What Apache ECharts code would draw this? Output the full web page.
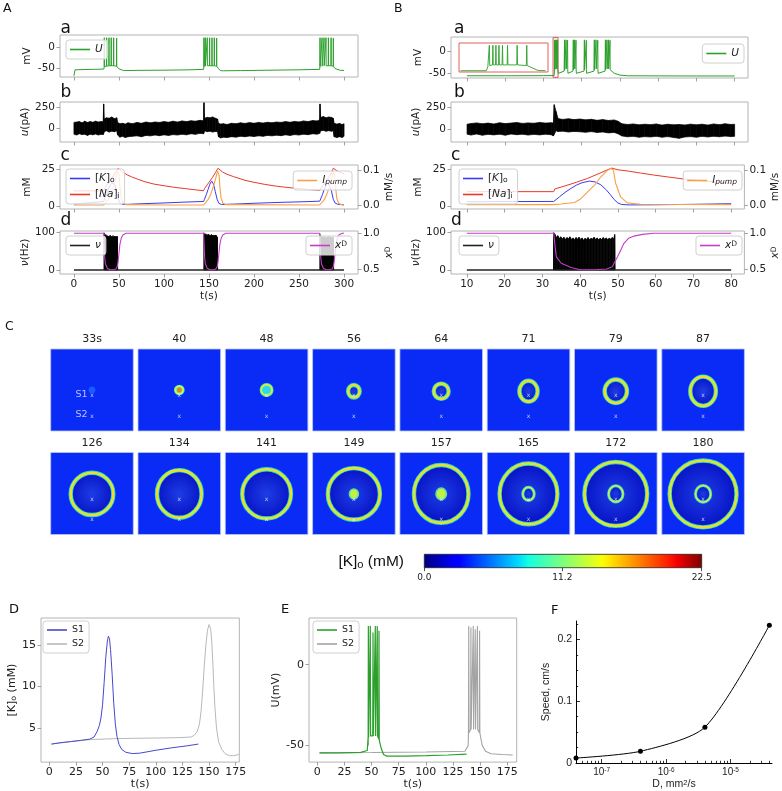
<!DOCTYPE html>
<html><head><meta charset="utf-8">
<script src="https://cdn.jsdelivr.net/npm/echarts@6/dist/echarts.min.js"></script>
<style>html,body{margin:0;padding:0;background:#fff}#c{width:782px;height:791px}</style>
</head><body><div id="c"></div>
<script>
// ===================== DATA =====================
// --- panels A/B tick values ---
const A_XTICKS = [0,50,100,150,200,250,300];
const B_XTICKS = [10,20,30,40,50,60,70,80];
const U_YTICKS = [-50,0];
const I_YTICKS = [0,250];
const C_LTICKS = [0,25];
const C_RTICKS = [0,0.1];
const NU_LTICKS = [0,100];
const XD_RTICKS = [0.5,1.0];

// --- A(a): membrane potential U (t s, mV); spikes: [t, peak, trough] ---
const A_U_base = [[0,-70],[0.8,-70],[1.2,-55],[10,-54.5],[20,-54],[30,-53.5],[33.3,-53],[48,-47],[49.5,-52],[51.5,-56],[55,-57],[70,-56.5],[100,-56],[130,-55],[144,-54],[159,-47],[160.5,-52],[162.5,-57],[166,-57.5],[185,-57],[220,-56],[250,-55],[272.9,-54],[288.6,-47],[290,-52],[292,-56],[296,-56.5],[300,-56.5]];
const A_U_spikes = [[33.7,25,-47],[36.3,25,-46],[38.9,25,-45],[41.4,25,-45],[44.1,25,-45],[47.4,24,-46],
  [144.4,25,-47],[145.9,25,-46],[148.1,25,-45],[150.7,25,-45],[153.3,25,-45],[155.9,25,-45],[158.5,24,-46],
  [273.3,25,-47],[275.6,25,-46],[277.8,25,-45],[280.0,25,-45],[282.6,25,-45],[285.6,25,-45],[288.1,24,-46]];
// --- A(b): input current u envelope [t, low, high] (pA) ---
const A_u_band = [[0,-70,70],[3,-80,75],[6,-65,80],[9,-75,65],[12,-70,85],[15,-85,70],[18,-70,80],[21,-78,72],[24,-68,85],[27,-80,75],[30,-72,80],[32.5,-75,78],[33,-60,290],[33.6,-40,110],[36,-30,125],[39,-45,120],[42,-35,135],[45,-40,115],[47.5,-30,125],[48.5,-80,70],[51,-105,55],[54,-95,60],[57,-110,50],[60,-100,65],[65,-95,55],[70,-90,70],[75,-100,60],[80,-85,75],[85,-90,65],[90,-80,75],[95,-88,70],[100,-78,80],[105,-85,72],[110,-75,85],[115,-80,75],[120,-70,88],[125,-78,80],[130,-65,90],[135,-72,85],[140,-60,95],[144,-65,90],[144.4,-50,305],[145,-30,120],[148,-40,130],[151,-35,125],[154,-45,135],[157,-38,120],[159.5,-40,110],[160.5,-100,60],[163,-115,50],[166,-105,55],[170,-110,45],[175,-100,60],[180,-105,55],[185,-95,65],[190,-100,58],[195,-92,68],[200,-98,60],[205,-90,70],[210,-95,62],[215,-85,72],[220,-90,66],[225,-82,75],[230,-88,70],[235,-78,80],[240,-85,72],[245,-75,82],[250,-80,76],[255,-70,88],[260,-76,80],[265,-65,92],[270,-70,88],[273,-60,100],[273.3,-40,290],[274,-30,130],[277,-25,140],[280,-35,125],[283,-28,135],[286,-35,130],[288,-30,120],[289,-100,60],[292,-110,50],[295,-100,58],[298,-108,45],[300,-95,55]];
// --- A(c): [K]o, [Na]i (mM), I_pump (mM/s) ---
const A_K = [[0,1.8],[10,2.3],[20,2.8],[30,3.3],[33,3.5],[34,5],[36,8],[38,11.5],[40,14],[42,15.8],[43.5,16.3],[45,15],[47,11],[49,5.5],[51,2.5],[54,1.6],[60,1.6],[80,2.1],[100,2.5],[120,3],[144,3.5],[145,5],[147,8],[149,11.5],[151,15],[153,17],[155,15],[157,10],[159,5],[161,2.2],[164,1.5],[180,1.8],[200,2.3],[230,2.9],[260,3.4],[273,3.7],[274,5],[276,8],[278,11.5],[280,14.5],[282,16],[284,15],[286,10.5],[288,5],[290,2.5],[293,1.6],[300,1.3]];
const A_Na = [[0,10.5],[33,10.5],[34,12],[37,14.5],[40,17],[43,19.5],[46,22.5],[49,25.5],[51,24.8],[54,23],[59,21.2],[64,19.8],[72,18],[79,16.5],[89,15],[99,14],[112,12.8],[124,12],[135,11.2],[144,10.6],[145,12],[148,14.5],[151,17],[154,19.5],[157,22.5],[160,25.5],[162,24.8],[165,23],[170,21.5],[177,20],[190,17.5],[200,16.2],[212,14.8],[225,13.6],[240,12.6],[255,11.7],[273,10.8],[274,12],[277,14.5],[280,17],[283,19.5],[286,22.5],[288,25.5],[290,24.8],[293,23.5],[297,22.5],[300,21.8]];
const A_Ip = [[0,0.002],[33,0.002],[35,0.006],[38,0.017],[41,0.033],[44,0.055],[46.5,0.077],[48.5,0.097],[49.3,0.102],[50.2,0.085],[51.2,0.05],[52.5,0.02],[54.5,0.007],[58,0.003],[100,0.002],[144,0.002],[146,0.006],[149,0.017],[152,0.033],[155,0.055],[157.5,0.077],[159.5,0.097],[160.3,0.102],[161.2,0.085],[162.2,0.05],[163.5,0.02],[165.5,0.007],[169,0.003],[273,0.002],[275,0.006],[278,0.017],[281,0.033],[284,0.055],[286.5,0.077],[288,0.097],[288.8,0.102],[289.7,0.085],[290.7,0.05],[292,0.02],[294,0.007],[297,0.003],[300,0.002]];
// --- A(d): firing rate nu (Hz) bursts [t, low, high], and x^D ---
const A_nu_rest = [[0,0],[300,0]];
const A_nu_bursts = [
  [[33.4,0,100],[33.8,0,93],[34.6,0,89],[35.4,0,95],[36.2,0,88],[37,0,92],[37.8,0,86],[38.6,0,91],[39.4,0,87],[40.2,0,93],[41,0,88],[41.8,0,90],[42.6,0,86],[43.4,0,92],[44.2,0,87],[45,0,90],[45.8,0,85],[46.6,0,91],[47.4,0,88],[48.2,0,90],[48.6,0,0]],
  [[144.3,0,100],[144.8,0,96],[145.6,0,92],[146.4,0,97],[147.2,0,91],[148,0,95],[148.8,0,90],[149.6,0,96],[150.4,0,91],[151.2,0,94],[152,0,89],[152.8,0,95],[153.6,0,90],[154.4,0,94],[155.2,0,89],[156,0,93],[156.8,0,90],[157.6,0,94],[158.4,0,91],[159.2,0,88],[159.6,0,0]],
  [[273.2,0,96],[273.6,0,90],[274.4,0,86],[275.2,0,91],[276,0,85],[276.8,0,89],[277.6,0,84],[278.4,0,90],[279.2,0,86],[280,0,88],[280.8,0,84],[281.6,0,89],[282.4,0,85],[283.2,0,90],[284,0,86],[284.8,0,88],[285.6,0,84],[286.4,0,89],[287.2,0,85],[288,0,88],[288.5,0,0]]
];
const A_xD = [[0,1],[33,1],[33.5,0.85],[34.2,0.65],[35,0.57],[37,0.51],[40,0.49],[44,0.49],[46.5,0.5],[48,0.53],[49,0.6],[50,0.72],[51,0.84],[52.5,0.93],[54.5,0.98],[58,1],[144,1],[144.5,0.85],[145.2,0.65],[146,0.57],[148,0.51],[151,0.49],[155,0.49],[157.5,0.5],[159,0.53],[160,0.6],[161,0.72],[162,0.84],[163.5,0.93],[165.5,0.98],[169,1],[273,1],[273.5,0.85],[274.2,0.65],[275,0.57],[277,0.51],[280,0.49],[284,0.49],[286.5,0.5],[288,0.53],[289,0.6],[290,0.72],[291,0.84],[292.5,0.93],[294.5,0.98],[298,1],[300,1]];

// --- B(a) ---
const B_U_base = [[10,-55.5],[20,-55.5],[30,-55.3],[32.8,-55],[33.9,-50],[35.4,-45],[36.4,-50],[37.7,-45],[38.6,-50],[40.6,-45],[41.3,-50],[43.2,-45],[44.3,-50],[46.1,-45],[47.5,-46],[48.5,-50],[50,-54],[52,-55.5],[60,-55.8],[70,-56],[80,-56]];
const B_U_spikes = [[32.9,25,-42],[33.2,25,-40],[33.45,25,-40],[33.7,24,-42],[35.5,25,-42],[35.9,25,-40],[36.3,24,-42],[37.8,25,-42],[38.15,25,-40],[38.5,24,-42],[40.7,25,-42],[41.2,24,-42],[43.3,25,-42],[43.75,25,-40],[44.2,24,-42],[46.2,25,-42],[46.6,25,-40],[47.0,25,-40],[47.4,24,-42]];
const B_ZOOM = [32.5, 33.8];
const B_IN_base = [[32.45,-56],[32.96,-56],[32.99,-44],[33.8,-40],[33.88,-48],[33.98,-55],[34.13,-56]];
const B_IN_spikes = [[33.02,23,-40],[33.09,23,-38],[33.15,23,-38],[33.21,23,-38],[33.28,23,-38],[33.38,23,-38],[33.57,23,-38],[33.76,23,-40]];
// --- B(b) ---
const B_u_band = [[10,-60,55],[11,-70,62],[12.5,-58,70],[14,-72,60],[15.5,-62,68],[17,-68,58],[18.5,-60,72],[20,-72,62],[21.5,-58,68],[23,-66,75],[24.5,-60,64],[26,-70,70],[27.5,-62,66],[29,-68,76],[30.5,-60,68],[32,-66,72],[32.6,-80,70],[32.8,-60,280],[33.3,-20,200],[33.8,-30,120],[35,-25,110],[36.5,-35,118],[38,-28,108],[39.5,-32,115],[41,-38,105],[42.5,-30,112],[44,-40,100],[45.5,-35,108],[47,-45,98],[48.5,-40,104],[49.5,-55,90],[50.5,-80,60],[52,-90,52],[53.5,-85,58],[55,-95,48],[56.5,-88,55],[58,-92,50],[59.5,-85,58],[61,-95,45],[62.5,-88,55],[64,-98,48],[65.5,-108,52],[67,-92,46],[68.5,-88,56],[70,-95,48],[71.5,-85,55],[73,-92,45],[74.5,-84,58],[76,-90,50],[77.5,-82,60],[79,-88,52],[80,-85,55]];
// --- B(c) ---
const B_K = [[10,3.3],[20,3.4],[33,3.5],[33.3,4.5],[34.5,6.5],[36,9.5],[37.6,12.2],[39,14.3],[40.5,15.9],[42.5,17],[44,16.4],[45.5,14.5],[47,11],[48,8],[49,4.8],[50,2.5],[51,1.5],[53,1.2],[60,1.3],[70,1.6],[80,2]];
const B_Na = [[10,10],[33,10],[33.3,11.8],[36,13.8],[39,16.2],[42,18.8],[45,22],[48.3,25.6],[50,24.5],[53,23.5],[56,22.3],[59.5,21],[63,19.8],[68,18.2],[72,17.2],[76.9,16.2],[80,15.6]];
const B_Ip = [[10,0.003],[33,0.003],[35,0.005],[38.5,0.009],[40,0.018],[42,0.039],[44,0.06],[45.5,0.081],[47,0.097],[48.1,0.104],[48.8,0.1],[49.4,0.063],[50.7,0.025],[52.5,0.008],[56,0.004],[80,0.003]];
// --- B(d) ---
const B_nu_rest = [[10,0],[80,0]];
const B_nu_bursts = [[[32.95,0,0],[33,0,100],[33.3,0,96],[33.7,0,88],[34.1,0,92],[34.5,0,85],[34.9,0,89],[35.3,0,83],[35.7,0,88],[36.1,0,82],[36.5,0,87],[36.9,0,84],[37.3,0,89],[37.7,0,82],[38.1,0,86],[38.5,0,81],[38.9,0,87],[39.3,0,83],[39.7,0,88],[40.1,0,82],[40.5,0,86],[40.9,0,80],[41.3,0,85],[41.7,0,82],[42.1,0,87],[42.5,0,81],[42.9,0,85],[43.3,0,83],[43.7,0,88],[44.1,0,82],[44.5,0,86],[44.9,0,81],[45.3,0,85],[45.7,0,82],[46.1,0,87],[46.5,0,83],[46.9,0,86],[47.3,0,82],[47.7,0,85],[48.1,0,83],[48.5,0,87],[48.9,0,84],[49.15,0,95],[49.25,0,0]]];
const B_xD = [[10,1],[33,1],[33.4,0.8],[33.7,0.67],[35,0.58],[37.6,0.52],[40,0.49],[44,0.49],[47,0.5],[48.5,0.53],[49,0.58],[49.9,0.67],[50.8,0.77],[51.6,0.86],[52.8,0.93],[54.2,0.96],[56.5,0.985],[59.5,1],[80,1]];

// --- C: snapshots of [K]o ---
const C_TITLES = ['33s','40','48','56','64','71','79','87','126','134','141','149','157','165','172','180'];
// [frame, cx, cy, rx, ry, kind]  (frame coords 0..100)
const C_FEATURES = [
  [0,50,50,4.2,4.2,0],[1,50,50,4.6,4.6,1],[2,50,50,6.5,6.5,2],
  [3,50,48.5,7,7.6,3],[4,50,48.5,9,9.3,3],[5,50,48.5,11,12.7,3],[6,50,48.5,13.5,14.3,3],[7,50,48.5,15.5,17.8,3],
  [8,50,49.5,25.8,25.8,3],[9,50,49.5,27,29,3],[10,50,49.5,29.5,30,3],
  [11,50,49.5,31.5,31.5,3],[11,50,49.5,5.4,6,4],
  [12,50,49.5,33,35.3,3],[12,50,49.5,6.3,7,4],
  [13,50,49.5,35,37,3],[13,50,49.5,6.9,8,5],
  [14,50,49.5,38,39,3],[14,50,49.5,8.7,9.8,5],
  [15,50,49.5,40.5,40.8,3],[15,50,49.5,9.2,10.2,5]
];
const C_MARKERS = [[50,43],[50,18]];
const C_MARKER_NAMES = ['S1','S2'];
const CB_RANGE = [0, 22.5];
const CB_TICKS = [0, 11.2, 22.5];

// --- D ---
const D_XTICKS = [0,25,50,75,100,125,150,175];
const D_YTICKS = [5,10,15];
const D_S1 = [[2,3.05],[10,3.2],[20,3.35],[30,3.5],[38,3.65],[42,3.9],[45,4.6],[47,5.3],[48.5,6.2],[50,7.8],[51.5,10.5],[53,13.5],[54.5,15.5],[55.5,16.1],[56.5,15.8],[57.5,14.5],[59,11.5],[60.5,8],[62,5.5],[63.5,4],[65.5,3],[68,2.4],[72,2.05],[78,1.9],[85,1.95],[100,2.3],[115,2.6],[130,2.85],[140,3.05]];
const D_S2 = [[2,3.05],[10,3.2],[20,3.35],[30,3.5],[40,3.6],[60,3.7],[80,3.75],[100,3.78],[120,3.82],[133,3.9],[136,4.1],[139,4.6],[141,5.5],[142.5,7],[144,9.5],[145.5,12.5],[147,15],[148.5,16.8],[150,17.5],[151.5,17],[152.5,15.5],[153.5,13],[154.5,10],[155.5,7.5],[157,5],[159,3.3],[162,2.4],[165,1.9],[169,1.65],[173,1.65],[178,1.8]];
// --- E ---
const E_XTICKS = [0,25,50,75,100,125,150,175];
const E_YTICKS = [-50,0];
const E_S1_base = [[2,-54.5],[20,-54.5],[40,-54.2],[46,-53],[46.8,-50],[57.5,-48],[59,-52],[61,-55.5],[64,-56.5],[80,-56.5],[100,-56.2],[120,-55.8],[137.5,-55.3]];
const E_S1_spikes = [[47,24,-45],[48.8,24,-44],[51.3,20,-44],[53.4,24,-44],[55.2,24,-44],[56.8,21,-46]];
const E_S2_base = [[2,-54.5],[50,-54.3],[100,-54],[136,-53.5],[139,-50],[150.5,-45],[152,-50],[155,-53.5],[160,-55],[170,-55.5],[180,-55.8]];
const E_S2_spikes = [[139.5,24,-42],[141.5,23,-40],[143.7,24,-40],[145.5,22,-40],[147.5,24,-40],[149.5,21,-42]];
// --- F ---
const F_D = [4e-8, 4e-7, 4e-6, 4e-5];
const F_SPEED = [0.008, 0.019, 0.058, 0.223];
const F_XRANGE = [4e-8, 4.4e-5];
const F_XTICKS = [1e-7, 1e-6, 1e-5];
const F_XMINOR = [5e-8,6e-8,7e-8,8e-8,9e-8,2e-7,3e-7,4e-7,5e-7,6e-7,7e-7,8e-7,9e-7,2e-6,3e-6,4e-6,5e-6,6e-6,7e-6,8e-6,9e-6,2e-5,3e-5,4e-5];
const F_YTICKS = [0, 0.1, 0.2];
const F_YMINOR = [0.025,0.05,0.075,0.125,0.15,0.175,0.225];

// ===================== BUILD =====================
const FONT = 'DejaVu Sans';
const SANS = 'Liberation Sans';
function rich(sz, font) { font = font || FONT; return {
  it:{fontStyle:'italic', fontSize:sz, fontFamily:font},
  sub:{fontSize:sz*0.72, verticalAlign:'bottom', lineHeight:sz*0.7, fontFamily:font},
  subit:{fontSize:sz*0.72, fontStyle:'italic', verticalAlign:'bottom', lineHeight:sz*0.7, fontFamily:font},
  sup:{fontSize:sz*0.72, verticalAlign:'top', lineHeight:sz*0.7, fontFamily:font}
};}
const grid=[], xAxis=[], yAxis=[], series=[], legend=[], graphic=[];
function G(left, top, width, height, extra) {
  grid.push(Object.assign({left, top, width, height, show:true, borderColor:'#b4b4b4', borderWidth:1, backgroundColor:'transparent', containLabel:false}, extra||{}));
  return grid.length-1;
}
function axisObj(gi, min, max, ticks, o) {
  o = o || {};
  const fs = o.fontSize || 10.5, font = o.font || FONT;
  const a = {gridIndex:gi, type:'value', min, max, position:o.position,
    axisLine:{show:!!o.line, onZero:false, lineStyle:{color:'#000', width:1}},
    splitLine:{show:false},
    axisTick:{show:!!ticks, length:o.tickLen||3.5, inside:!!o.inside, lineStyle:{color:o.tickColor||'#8a8a8a', width:0.8}},
    axisLabel:{show:!!o.labels, margin:o.margin||5, fontSize:fs, color:'#222', fontFamily:font, rich:rich(fs*0.9,font)},
    name:o.name||'', nameLocation:'middle', nameGap:o.nameGap||16,
    nameTextStyle:{fontSize:o.nameSize||10.5, color:'#222', fontFamily:font, rich:rich(o.nameSize||10.5,font)}
  };
  if (ticks) { a.axisTick.customValues = ticks; a.axisLabel.customValues = ticks; }
  if (o.formatter) a.axisLabel.formatter = o.formatter;
  if (o.hidden) a.show = false;
  return a;
}
function X(gi,min,max,ticks,o){ o=o||{}; o.position=o.position||'bottom'; xAxis.push(axisObj(gi,min,max,ticks,o)); return xAxis.length-1; }
function Y(gi,min,max,ticks,o){ o=o||{}; o.position=o.position||'left'; if(!o.nameGap) o.nameGap=27; yAxis.push(axisObj(gi,min,max,ticks,o)); return yAxis.length-1; }
function L(name, xi, yi, data, color, w, extra) {
  series.push(Object.assign({name, type:'line', xAxisIndex:xi, yAxisIndex:yi, data, showSymbol:false, symbol:'none',
    lineStyle:{color, width:w||1}, itemStyle:{color}, silent:true, clip:true, z:3}, extra||{}));
}
function withSpikes(base, spikes, w) {
  const pts = base.map(p => [p[0], p[1]]);
  spikes.forEach(s => { pts.push([s[0]-w, s[2]], [s[0], s[1]], [s[0]+w, s[2]]); });
  pts.sort((a,b) => a[0]-b[0]);
  return pts;
}
function band(xi, yi, rows, color, z) {
  const segs = [];
  for (let i=0;i<rows.length-1;i++){ const a=rows[i], b=rows[i+1]; segs.push([a[0],a[1],a[2],b[0],b[1],b[2]]); }
  series.push({type:'custom', xAxisIndex:xi, yAxisIndex:yi, data:segs, silent:true, z:z||2, clip:true,
    encode:{x:[0,3], y:[1,2,4,5]},
    renderItem:(p, api) => {
      const a0=api.coord([api.value(0),api.value(1)]), a1=api.coord([api.value(0),api.value(2)]);
      const b0=api.coord([api.value(3),api.value(4)]), b1=api.coord([api.value(3),api.value(5)]);
      return {type:'polygon', shape:{points:[a0,a1,b1,b0]}, style:{fill:color, stroke:color, lineWidth:0.7}};
    }});
}
const LABELS = {AU:'{it|U}', BU:'{it|U}', AK:'[{it|K}]{sub|o}', BK:'[{it|K}]{sub|o}', ANa:'[{it|Na}]{sub|i}', BNa:'[{it|Na}]{sub|i}',
  AIp:'{it|I}{subit|pump}', BIp:'{it|I}{subit|pump}', Anu:'{it|ν}', Bnu:'{it|ν}', AxD:'{it|x}{sup|D}', BxD:'{it|x}{sup|D}',
  DS1:'S1', DS2:'S2', ES1:'S1', ES2:'S2'};
function LEG(names, pos, extra) {
  legend.push(Object.assign({data:names, orient:'vertical', selectedMode:false, icon:'rect', itemWidth:20, itemHeight:1.6, itemGap:5,
    padding:[4,5,4,4], backgroundColor:'rgba(255,255,255,0.8)', borderColor:'#d0d0d0', borderWidth:1, borderRadius:3,
    textStyle:{fontFamily:FONT, fontSize:10.5, color:'#222', rich:rich(10.5)}, formatter:n => LABELS[n] || n, z:10}, pos, extra||{}));
}
function T(text, x, y, size, o) {
  o = o || {};
  graphic.push({type:'text', x, y, z:20, silent:true, style:{text, fontSize:size, fontFamily:o.font||FONT, fill:o.fill||'#111',
    align:o.align||'left', verticalAlign:o.va||'middle', rich:rich(size, o.font)}});
}

const GREEN='#2ca02c', BLUE='#3a3af0', RED='#e8392c', ORANGE='#f7a048', MAG='#c23fc8';

// ---------- Panel A & B builder ----------
function buildColumn(P, cfg) {
  const L0 = cfg.left, W = cfg.width;
  const ga = G(L0, cfg.aTop, W, cfg.aH), gb = G(L0, 102, W, 40), gc = G(L0, 165, W, 44), gd = G(L0, 231, W, 43);
  const xa = X(ga, cfg.xmin, cfg.xmax, cfg.xticks), xb = X(gb, cfg.xmin, cfg.xmax, cfg.xticks), xc = X(gc, cfg.xmin, cfg.xmax, cfg.xticks);
  const xd = X(gd, cfg.xmin, cfg.xmax, cfg.xticks, {labels:true, name:'t(s)', nameGap:17, margin:5});
  const ya = Y(ga, cfg.aMin, cfg.aMax, U_YTICKS, {labels:true, name:'mV'});
  const yb = Y(gb, cfg.bMin, cfg.bMax, I_YTICKS, {labels:true, name:'{it|u}(pA)'});
  const yc = Y(gc, -1.5, 27.65, C_LTICKS, {labels:true, name:'mM'});
  const yc2 = Y(gc, -0.0092, 0.114, C_RTICKS, {labels:true, position:'right', name:'mM/s', nameGap:24, formatter:v => v.toFixed(1)});
  const yd = Y(gd, -10.7, 104.6, NU_LTICKS, {labels:true, name:'{it|ν}(Hz)'});
  const yd2 = Y(gd, 0.43, 1.032, XD_RTICKS, {labels:true, position:'right', name:'{it|x}{sup|D}', nameGap:24, formatter:v => v.toFixed(1)});
  // a
  L(P+'U', xa, ya, withSpikes(cfg.U_base, cfg.U_spikes, cfg.spikeW), GREEN, 1);
  // b
  band(xb, yb, cfg.u_band, '#000');
  // c
  L(P+'K', xc, yc, cfg.K, BLUE, 1);
  L(P+'Na', xc, yc, cfg.Na, RED, 1);
  L(P+'Ip', xc, yc2, cfg.Ip, ORANGE, 1.1);
  // d
  cfg.nu_bursts.forEach(b => band(xd, yd, b, '#000'));
  L(P+'nu', xd, yd, cfg.nu_rest, '#222', 1.4);
  L(P+'xD', xd, yd2, cfg.xD, MAG, 1.1, {z:5});
  return {ga, xa, ya};
}
const colA = buildColumn('A', {left:60, width:298, xmin:-15.5, xmax:315.5, xticks:A_XTICKS, aTop:35, aH:42, aMin:-73, aMax:31.75,
  bMin:-163, bMax:313, U_base:A_U_base, U_spikes:A_U_spikes, spikeW:0.12, u_band:A_u_band, K:A_K, Na:A_Na, Ip:A_Ip,
  nu_bursts:A_nu_bursts, nu_rest:A_nu_rest, xD:A_xD});
const colB = buildColumn('B', {left:451, width:297, xmin:5.8, xmax:83.5, xticks:B_XTICKS, aTop:37, aH:41, aMin:-60.5, aMax:31.4,
  bMin:-150, bMax:311, U_base:B_U_base, U_spikes:B_U_spikes, spikeW:0.04, u_band:B_u_band, K:B_K, Na:B_Na, Ip:B_Ip,
  nu_bursts:B_nu_bursts, nu_rest:B_nu_rest, xD:B_xD});
// zoom marker in B(a)
series.push({type:'line', xAxisIndex:colB.xa, yAxisIndex:colB.ya, data:[], silent:true,
  markArea:{silent:true, itemStyle:{color:'rgba(0,0,0,0)', borderColor:'#e05555', borderWidth:1},
    data:[[{coord:[B_ZOOM[0], -59]}, {coord:[B_ZOOM[1], 30]}]]}});
// inset
const gIn = G(459, 43, 89, 29, {borderColor:'#e06060', backgroundColor:'#fff', z:4});
const xIn = X(gIn, 32.42, 34.18, null, {hidden:true}), yIn = Y(gIn, -60, 30, null, {hidden:true});
L('inset', xIn, yIn, withSpikes(B_IN_base, B_IN_spikes, 0.008), GREEN, 0.9, {z:6});

LEG(['AU'], {left:66, top:40});
LEG(['AK','ANa'], {left:66, top:169});
LEG(['AIp'], {right:430, top:171});
LEG(['Anu'], {left:66, top:236});
LEG(['AxD'], {right:430, top:236});
LEG(['BU'], {right:38, top:44});
LEG(['BK','BNa'], {left:459, top:169});
LEG(['BIp'], {right:40, top:171});
LEG(['Bnu'], {left:459, top:236});
LEG(['BxD'], {right:40, top:236});

// ---------- Panel C ----------
const INTERIOR = {type:'radial', x:0.5, y:0.5, r:0.5, colorStops:[{offset:0,color:'#1d3de6'},{offset:0.75,color:'#0c1ccc'},{offset:1,color:'#0810bd'}]};
const C_STYLE = {
  0:{fill:'#1a5cff'},
  1:{fill:'#ff7c00', edge:'#3ee0d0', w1:3.2, mid:'#e6f230', w2:1.6},
  2:{fill:'#2ad8f6', edge:'#4ae6a8', w1:3.2, mid:'#dcf03a', w2:1.6},
  3:{fill:INTERIOR, edge:'#38d4c8', w1:4.4, mid:'#cdf040', w2:2.6, core:'#ffd222', w3:1.0},
  4:{fill:'#c4f040', edge:'#5ee0a6', w1:1.6},
  5:{fill:INTERIOR, edge:'#3cd6ce', w1:3.0, mid:'#c8f048', w2:1.5}
};
function ringItem(p, api) {
  const c = api.coord([api.value(0), api.value(1)]);
  const s = api.size([api.value(2), api.value(3)]);
  const sh = {cx:c[0], cy:c[1], rx:s[0], ry:s[1]};
  const st = C_STYLE[api.value(4)];
  const ch = [{type:'ellipse', shape:sh, style:{fill:st.fill, stroke:st.edge||null, lineWidth:st.w1||0}}];
  if (st.mid) ch.push({type:'ellipse', shape:sh, style:{fill:null, stroke:st.mid, lineWidth:st.w2}});
  if (st.core) ch.push({type:'ellipse', shape:sh, style:{fill:null, stroke:st.core, lineWidth:st.w3}});
  return {type:'group', children:ch};
}
C_TITLES.forEach((title, i) => {
  const col = i % 8, row = Math.floor(i / 8);
  const g = G(50.7 + col*87.3, row === 0 ? 349 : 452.5, 82.6, 82, {backgroundColor:'#0a2af6', borderColor:'#b8c6f4', borderWidth:0.8});
  const xi = X(g, 0, 100, null, {position:'top', name:title, nameGap:4, nameSize:11});
  const yi = Y(g, 0, 100, null, {hidden:true});
  series.push({type:'custom', xAxisIndex:xi, yAxisIndex:yi, silent:true, clip:true, z:2,
    data:C_FEATURES.filter(f => f[0] === i).map(f => f.slice(1)), encode:{x:[0], y:[1]}, renderItem:ringItem});
  series.push({type:'scatter', xAxisIndex:xi, yAxisIndex:yi, silent:true, z:4, data:C_MARKERS, symbolSize:1,
    itemStyle:{color:'rgba(0,0,0,0)'}, label:{show:true, formatter:'x', position:'inside', color:'#eef2ff', fontSize:6, fontFamily:FONT}});
  if (i === 0) {
    series.push({type:'scatter', xAxisIndex:xi, yAxisIndex:yi, silent:true, z:4, data:C_MARKERS, symbolSize:1,
      itemStyle:{color:'rgba(0,0,0,0)'}, label:{show:true, formatter:p => C_MARKER_NAMES[p.dataIndex], position:'left', distance:4, offset:[0,-1.5], color:'#dfe6ff', fontSize:9.5, fontFamily:FONT}});
  }
});
// colorbar
const JET = [[0,'#000080'],[0.11,'#0000ff'],[0.125,'#0000ff'],[0.34,'#00dbff'],[0.375,'#14ffe3'],[0.5,'#7dff7a'],[0.64,'#f7ff08'],[0.66,'#ffed00'],[0.89,'#ff1200'],[0.91,'#f50000'],[1,'#800000']];
const gCb = G(424.3, 554.3, 277.4, 13.4, {borderColor:'#222', borderWidth:0.8, z:3});
const xCb = X(gCb, CB_RANGE[0], CB_RANGE[1], CB_TICKS, {labels:true, fontSize:9, margin:5, tickColor:'#222', formatter:v => v.toFixed(1)});
const yCb = Y(gCb, 0, 1, null, {hidden:true});
series.push({type:'custom', xAxisIndex:xCb, yAxisIndex:yCb, silent:true, z:1, data:[[CB_RANGE[0], CB_RANGE[1]]], encode:{x:[0,1]},
  renderItem:(p, api) => {
    const a = api.coord([api.value(0), 0]), b = api.coord([api.value(1), 1]);
    return {type:'rect', shape:{x:a[0], y:b[1], width:b[0]-a[0], height:a[1]-b[1]},
      style:{fill:{type:'linear', x:0, y:0, x2:1, y2:0, colorStops:JET.map(s => ({offset:s[0], color:s[1]}))}}};
  }});
T('[K]{sub|o} (mM)', 404, 562, 15.5, {align:'right', font:SANS});

// ---------- Panel D ----------
const gD = G(41, 618, 198.3, 147.7);
const xD = X(gD, -7.8, 178.4, D_XTICKS, {labels:true, fontSize:11, margin:5, name:'t(s)', nameGap:16, nameSize:11});
const yD = Y(gD, 0.87, 18.3, D_YTICKS, {labels:true, fontSize:11, margin:5, name:'[K]{sub|o} (mM)', nameGap:21, nameSize:11});
L('DS1', xD, yD, D_S1, '#4848cc', 1, {z:4});
L('DS2', xD, yD, D_S2, '#b8b8b8', 1);
LEG(['DS1','DS2'], {left:43, top:621}, {textStyle:{fontFamily:FONT, fontSize:9.5, color:'#222'}, itemGap:4});
// ---------- Panel E ----------
const gE = G(309, 618, 207.7, 147);
const xE = X(gE, -7.7, 183.7, E_XTICKS, {labels:true, fontSize:11, margin:5, name:'t(s)', nameGap:16, nameSize:11});
const yE = Y(gE, -60.2, 28.9, E_YTICKS, {labels:true, fontSize:11, margin:5, name:'U(mV)', nameGap:20, nameSize:11});
L('ES1', xE, yE, withSpikes(E_S1_base, E_S1_spikes, 0.25), GREEN, 1.2, {z:4});
L('ES2', xE, yE, withSpikes(E_S2_base, E_S2_spikes, 0.25), '#a4a4a4', 1.1);
LEG(['ES1','ES2'], {left:313, top:621}, {textStyle:{fontFamily:FONT, fontSize:9.5, color:'#222'}, itemGap:4});
// ---------- Panel F ----------
const lg = v => Math.log10(v);
const gF = G(576, 621, 196, 143, {show:false});
const xF = X(gF, lg(F_XRANGE[0]), lg(F_XRANGE[1]), F_XTICKS.map(lg), {labels:true, line:true, inside:true, tickLen:4, tickColor:'#000', font:SANS, fontSize:10, margin:4,
  formatter:v => '10{sup|' + Math.round(v) + '}', name:'D, mm{sup|2}/s', nameGap:16, nameSize:10.5});
const xF2 = X(gF, lg(F_XRANGE[0]), lg(F_XRANGE[1]), F_XMINOR.map(lg), {inside:true, tickLen:2.2, tickColor:'#000'});
const yF = Y(gF, 0, 0.23, F_YTICKS, {labels:true, line:true, inside:true, tickLen:4, tickColor:'#000', font:SANS, fontSize:10.5, margin:4,
  formatter:v => v === 0 ? '0' : v.toFixed(1), name:'Speed, cm/s', nameGap:24, nameSize:10.5});
const yF2 = Y(gF, 0, 0.23, F_YMINOR, {inside:true, tickLen:2.2, tickColor:'#000'});
series.push({name:'F', type:'line', xAxisIndex:xF, yAxisIndex:yF, data:F_D.map((d,i) => [lg(d), F_SPEED[i]]), smooth:0.25,
  symbol:'circle', symbolSize:5, showSymbol:true, lineStyle:{color:'#000', width:1}, itemStyle:{color:'#000'}, silent:true, z:3});

// ---------- letters ----------
T('A', 3, 9, 12.5); T('B', 394, 9, 12.5); T('C', 5, 327, 12.5);
T('D', 9, 610, 13); T('E', 281, 610, 13); T('F', 551, 611, 13);
['a','b','c','d'].forEach((s, k) => {
  const base = [37, 101, 164, 229][k];
  T(s, 60.5, base, 17, {va:'bottom'});
  T(s, k < 2 ? 454 : 451, base, 17, {va:'bottom'});
});

const chart = echarts.init(document.getElementById('c'));
chart.setOption({animation:false, backgroundColor:'#fff', textStyle:{fontFamily:FONT}, grid, xAxis, yAxis, series, legend, graphic});
</script></body></html>
